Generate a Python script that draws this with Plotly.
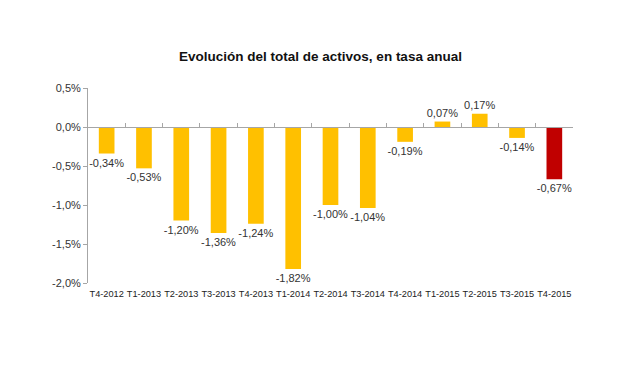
import plotly.graph_objects as go

categories = ["T4-2012", "T1-2013", "T2-2013", "T3-2013", "T4-2013", "T1-2014", "T2-2014",
              "T3-2014", "T4-2014", "T1-2015", "T2-2015", "T3-2015", "T4-2015"]
values = [-0.34, -0.53, -1.20, -1.36, -1.24, -1.82, -1.00, -1.04, -0.19, 0.07, 0.17, -0.14, -0.67]
ytick_vals = [0.5, 0.0, -0.5, -1.0, -1.5, -2.0]
ytick_text = ["0,5%", "0,0%", "-0,5%", "-1,0%", "-1,5%", "-2,0%"]
title = "Evolución del total de activos, en tasa anual"

labels = [f"{v:.2f}%".replace(".", ",") for v in values]
colors = ["#FFC000"] * (len(values) - 1) + ["#C00000"]

fig = go.Figure()
fig.add_trace(go.Bar(
    x=categories, y=values, marker=dict(color=colors, line=dict(width=0)),
    text=labels, textposition="outside", cliponaxis=False, constraintext="none", textangle=0,
    textfont=dict(family="Liberation Sans, Arial", size=11, color="#333333"),
    width=0.42,
))
# invisible trace for the overlaying axis that sits on the zero line
fig.add_trace(go.Scatter(x=categories, y=[0] * len(categories), xaxis="x2",
                         mode="lines", line=dict(width=0), hoverinfo="skip", showlegend=False))

fig.update_layout(
    width=625, height=390,
    margin=dict(l=80, r=60, t=80, b=115, autoexpand=False),
    paper_bgcolor="white", plot_bgcolor="white",
    showlegend=False,
    uniformtext=dict(minsize=11, mode="show"),
    title=dict(text="<b>" + title + "</b>", x=0.5, xanchor="center", y=0.877, yanchor="middle",
               font=dict(family="Liberation Sans, Arial", size=13.5, color="#111111")),
    xaxis=dict(type="category", showline=False, ticks="", showgrid=False, zeroline=False,
               tickangle=0, automargin=False, ticklabelstandoff=4,
               tickfont=dict(family="Liberation Sans, Arial", size=9.2, color="#222222")),
    xaxis2=dict(type="category", overlaying="x", matches="x", anchor="free", position=0.8,
                side="bottom", showline=True, linecolor="#A6A6A6", linewidth=1,
                ticks="inside", ticklen=4, tickcolor="#A6A6A6", tickson="boundaries",
                showticklabels=False, showgrid=False, zeroline=False),
    yaxis=dict(range=[-2.0, 0.5], tickvals=ytick_vals, ticktext=ytick_text,
               showline=True, linecolor="#A6A6A6", linewidth=1, ticks="outside", ticklen=4,
               tickcolor="#A6A6A6", showgrid=False, zeroline=False, automargin=False,
               tickfont=dict(family="Liberation Sans, Arial", size=11, color="#333333")),
    bargap=0.58,
)

fig.write_html("out.html")
